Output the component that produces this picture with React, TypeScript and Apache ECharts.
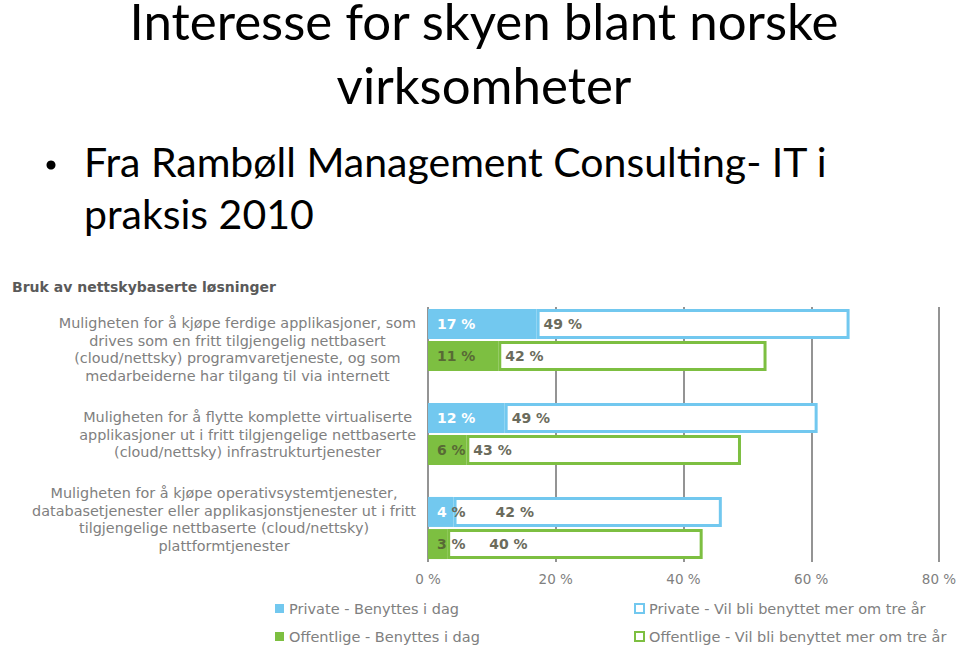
import React, { useEffect, useRef } from "react";
import * as echarts from "echarts";

const categories = [
  "Muligheten for å kjøpe ferdige applikasjoner, som\ndrives som en fritt tilgjengelig nettbasert\n(cloud/nettsky) programvaretjeneste, og som\nmedarbeiderne har tilgang til via internett",
  "Muligheten for å flytte komplette virtualiserte\napplikasjoner ut i fritt tilgjengelige nettbaserte\n(cloud/nettsky) infrastrukturtjenester",
  "Muligheten for å kjøpe operativsystemtjenester,\ndatabasetjenester eller applikasjonstjenester ut i fritt\ntilgjengelige nettbaserte (cloud/nettsky)\nplattformtjenester",
];
const privateToday = [17, 12, 4];
const privateFuture = [49, 49, 42];
const publicToday = [11, 6, 3];
const publicFuture = [42, 43, 40];
const xTicks = [0, 20, 40, 60, 80];

const seriesNames = [
  "Private - Benyttes i dag",
  "Private - Vil bli benyttet mer om tre år",
  "Offentlige - Benyttes i dag",
  "Offentlige - Vil bli benyttet mer om tre år",
];

const BLUE = "#72c8ef";
const GREEN = "#7dbf41";
const GRAY = "#808080";
const LABEL_GRAY = "#6b6b5c";
const GREEN_LABEL = "#586a35";
const VFONT = '"DejaVu Sans", Verdana, sans-serif';
const SFONT = 'Lato, "Open Sans", sans-serif';

export default function App() {
  const ref = useRef<HTMLDivElement>(null);
  useEffect(() => {
    if (!ref.current) return;
    const chart = echarts.init(ref.current, null, { renderer: "svg" });

    const solidLabel = (color: string) => ({
      show: true,
      position: "insideLeft" as const,
      distance: 9,
      fontFamily: VFONT,
      fontSize: 14,
      fontWeight: "bold" as const,
      color,
      formatter: (p: any) =>
        p.value < 5 ? `{a|${p.value}}{b| %}` : `${p.value} %`,
      rich: {
        a: { color, fontFamily: VFONT, fontSize: 14, fontWeight: "bold" },
        b: { color: LABEL_GRAY, fontFamily: VFONT, fontSize: 14, fontWeight: "bold" },
      },
    });
    const hollowLabel = {
      show: true,
      position: "insideLeft" as const,
      fontFamily: VFONT,
      fontSize: 14,
      fontWeight: "bold" as const,
      color: LABEL_GRAY,
      formatter: "{c} %",
    };
    const hollowData = (vals: number[], prev: number[]) =>
      vals.map((v, i) => ({ value: v, label: { distance: prev[i] < 5 ? 42 : 7 } }));

    const legendText = { color: GRAY, fontSize: 14.5, fontFamily: VFONT };

    const option: any = {
      animation: false,
      backgroundColor: "#ffffff",
      grid: [
        { left: 428, right: 21, top: 307, height: 255, outerBoundsMode: "none", containLabel: false },
        { left: 428, right: 21, top: 293, height: 282, outerBoundsMode: "none", containLabel: false },
      ],
      xAxis: [
        {
          gridIndex: 0,
          type: "value",
          min: 0,
          max: 80,
          interval: 20,
          axisLine: { show: false },
          axisTick: { show: false },
          axisLabel: {
            formatter: (v: number) => (xTicks.includes(v) ? `${v} %` : ""),
            color: GRAY,
            fontFamily: VFONT,
            fontSize: 13.5,
            margin: 10,
          },
          splitLine: { show: true, lineStyle: { color: "#707070", width: 1.5 } },
        },
        { gridIndex: 1, type: "value", min: 0, max: 80, show: false },
      ],
      yAxis: [
        {
          gridIndex: 0,
          type: "category",
          inverse: true,
          data: categories,
          axisLine: { show: false },
          axisTick: { show: false },
          splitLine: { show: false },
          axisLabel: {
            interval: 0,
            align: "right",
            margin: 12,
            color: GRAY,
            fontFamily: VFONT,
            fontSize: 14.4,
            lineHeight: 17.5,
            formatter: (v: string) =>
              v.split("\n").map((l) => `{c|${l}}`).join("\n"),
            rich: {
              c: {
                align: "center",
                color: GRAY,
                fontFamily: VFONT,
                fontSize: 14.4,
                lineHeight: 17.5,
              },
            },
          },
        },
        {
          gridIndex: 1,
          type: "category",
          inverse: true,
          data: categories,
          show: false,
        },
      ],
      legend: [
        {
          data: [
            { name: seriesNames[0], icon: "rect" },
            { name: seriesNames[2], icon: "rect" },
          ],
          orient: "vertical",
          left: 270,
          top: 596,
          itemWidth: 9,
          itemHeight: 9,
          itemGap: 13,
          textStyle: legendText,
        },
        {
          data: [
            { name: seriesNames[1], icon: "rect", itemStyle: { color: "#fff", borderColor: BLUE, borderWidth: 2 } },
            { name: seriesNames[3], icon: "rect", itemStyle: { color: "#fff", borderColor: GREEN, borderWidth: 2 } },
          ],
          orient: "vertical",
          left: 629,
          top: 596,
          itemWidth: 9,
          itemHeight: 9,
          itemGap: 13,
          textStyle: legendText,
        },
      ],
      series: [
        {
          name: seriesNames[0],
          type: "bar",
          xAxisIndex: 1,
          yAxisIndex: 1,
          stack: "private",
          barWidth: 30,
          barGap: "7%",
          data: privateToday,
          itemStyle: { color: BLUE },
          label: solidLabel("#ffffff"),
        },
        {
          name: seriesNames[1],
          type: "bar",
          xAxisIndex: 1,
          yAxisIndex: 1,
          stack: "private",
          barWidth: 30,
          barGap: "7%",
          data: hollowData(privateFuture, privateToday),
          itemStyle: { color: "#ffffff", borderColor: BLUE, borderWidth: 3 },
          label: hollowLabel,
        },
        {
          name: seriesNames[2],
          type: "bar",
          xAxisIndex: 1,
          yAxisIndex: 1,
          stack: "public",
          barWidth: 30,
          barGap: "7%",
          data: publicToday,
          itemStyle: { color: GREEN },
          label: solidLabel(GREEN_LABEL),
        },
        {
          name: seriesNames[3],
          type: "bar",
          xAxisIndex: 1,
          yAxisIndex: 1,
          stack: "public",
          barWidth: 30,
          barGap: "7%",
          data: hollowData(publicFuture, publicToday),
          itemStyle: { color: "#ffffff", borderColor: GREEN, borderWidth: 3 },
          label: hollowLabel,
        },
      ],
      graphic: [
        {
          type: "text",
          x: 484,
          y: 20,
          style: {
            text: "Interesse for skyen blant norske",
            fontFamily: SFONT,
            fontSize: 51,
            lineHeight: 36,
            fill: "#000",
            align: "center",
            verticalAlign: "middle",
          },
        },
        {
          type: "text",
          x: 484,
          y: 84,
          style: {
            text: "virksomheter",
            fontFamily: SFONT,
            fontSize: 51,
            lineHeight: 51,
            fill: "#000",
            align: "center",
            verticalAlign: "middle",
          },
        },
        {
          type: "circle",
          shape: { cx: 51, cy: 165, r: 4.5 },
          style: { fill: "#000" },
        },
        {
          type: "text",
          x: 84,
          y: 135,
          style: {
            text: "Fra Rambøll Management Consulting- IT i\npraksis 2010",
            fontFamily: SFONT,
            fontSize: 41,
            lineHeight: 52,
            fill: "#000",
          },
        },
        {
          type: "text",
          x: 12,
          y: 287,
          style: {
            text: "Bruk av nettskybaserte løsninger",
            fontFamily: VFONT,
            fontSize: 14,
            fontWeight: "bold",
            fill: "#5a5a5a",
            verticalAlign: "middle",
          },
        },
      ],
    };
    chart.setOption(option);
    return () => chart.dispose();
  }, []);
  return (
    <div
      ref={ref}
      style={{ position: "absolute", left: 0, top: 0, width: 960, height: 657 }}
    />
  );
}
